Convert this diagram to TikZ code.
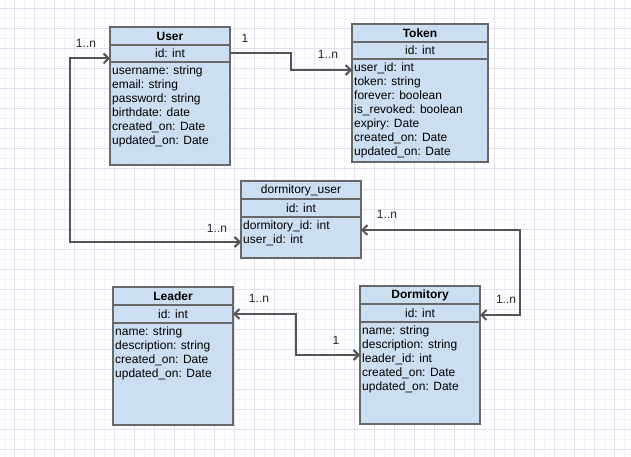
\documentclass[tikz,border=0pt]{standalone}
\usepackage{fontspec}
\setmainfont{Liberation Sans}
\usetikzlibrary{arrows.meta,positioning}

\definecolor{boxfill}{RGB}{204,222,241}
\definecolor{boxline}{RGB}{104,104,104}
\definecolor{edgeline}{RGB}{84,84,84}
\definecolor{gridminor}{RGB}{241,241,250}
\definecolor{gridmajor}{RGB}{224,224,242}

\tikzset{
  entity/.style={draw=boxline,fill=boxfill,line width=2pt,anchor=north west,
    inner sep=0pt,outer sep=0pt},
  erow/.style={entity,minimum height=18pt,font=\fontsize{12}{14}\selectfont},
  ebody/.style={anchor=north west,inner sep=0pt,align=left,
    font=\fontsize{12}{14}\selectfont},
  edge/.style={draw=edgeline,line width=2pt},
  barb/.tip={Straight Barb[length=5pt,width=10pt,line width=2pt]},
  mult/.style={font=\fontsize{12}{14}\selectfont,text=black!85,inner sep=0pt}
}

\begin{document}
\begin{tikzpicture}[x=1pt,y=-1pt]
\useasboundingbox (0,0) rectangle (631,457);
\fill[white] (0,0) rectangle (631,457);
% grid
\foreach \x in {4,14,...,631} \draw[gridminor,line width=1pt] (\x,0) -- (\x,457);
\foreach \y in {-1,9,...,457} \draw[gridminor,line width=1pt] (0,\y) -- (631,\y);
\foreach \x in {14,34,...,631} \draw[gridmajor,line width=1pt] (\x,0) -- (\x,457);
\foreach \y in {9,29,...,457} \draw[gridmajor,line width=1pt] (0,\y) -- (631,\y);

% User
\node[entity,minimum width=120pt,minimum height=138pt] (user) at (110,27) {};
\node[erow,minimum width=120pt] (user-t) at (user.north west) {\bfseries User};
\node[erow,minimum width=120pt,minimum height=17pt] (user-id) at (user-t.south west) {id: int};
\node[ebody] (user-b) at ([xshift=2pt,yshift=-4pt]user-id.south west)
  {username: string\\email: string\\password: string\\birthdate: date\\created\_on: Date\\updated\_on: Date};

% Token
\node[entity,minimum width=136pt,minimum height=138pt] (token) at (352,24) {};
\node[erow,minimum width=136pt] (token-t) at (token.north west) {\bfseries Token};
\node[erow,minimum width=136pt,minimum height=17pt] (token-id) at (token-t.south west) {id: int};
\node[ebody] (token-b) at ([xshift=2pt,yshift=-4pt]token-id.south west)
  {user\_id: int\\token: string\\forever: boolean\\is\_revoked: boolean\\expiry: Date\\created\_on: Date\\updated\_on: Date};

% dormitory_user
\node[entity,minimum width=120pt,minimum height=77pt] (du) at (241,181) {};
\node[erow,minimum width=120pt] (du-t) at (du.north west) {dormitory\_user};
\node[erow,minimum width=120pt] (du-id) at (du-t.south west) {id: int};
\node[ebody] (du-b) at ([xshift=2pt,yshift=-4pt]du-id.south west)
  {dormitory\_id: int\\user\_id: int};

% Leader
\node[entity,minimum width=120pt,minimum height=138pt] (leader) at (113,287) {};
\node[erow,minimum width=120pt] (leader-t) at (leader.north west) {\bfseries Leader};
\node[erow,minimum width=120pt] (leader-id) at (leader-t.south west) {id: int};
\node[ebody] (leader-b) at ([xshift=2pt,yshift=-4pt]leader-id.south west)
  {name: string\\description: string\\created\_on: Date\\updated\_on: Date};

% Dormitory
\node[entity,minimum width=120pt,minimum height=138pt] (dorm) at (360,286) {};
\node[erow,minimum width=120pt] (dorm-t) at (dorm.north west) {\bfseries Dormitory};
\node[erow,minimum width=120pt] (dorm-id) at (dorm-t.south west) {id: int};
\node[ebody] (dorm-b) at ([xshift=2pt,yshift=-4pt]dorm-id.south west)
  {name: string\\description: string\\leader\_id: int\\created\_on: Date\\updated\_on: Date};

% relations
\draw[edge,-barb] (user-id.east) -- ++(61,0) |- ([yshift=-11pt]token-id.south west);
\draw[edge,barb-barb] ([yshift=-5pt]user-id.west) -- ++(-40,0) |- ([yshift=-25pt]du-id.south west);
\draw[edge,barb-barb] ([yshift=-13pt]du-id.south east) -- ++(159,0) |- ([yshift=-2pt]dorm-id.east);
\draw[edge,barb-barb] (leader-id.east) -- ++(63,0) |- ([yshift=-33pt]dorm-id.south west);

% multiplicities
\node[mult] (m-user-r) at (245,38) {1};
\node[mult] (m-token) at (328,54) {1..n};
\node[mult] (m-user-l) at (86,43) {1..n};
\node[mult] (m-du-l) at (217,228) {1..n};
\node[mult] (m-du-r) at (387,214) {1..n};
\node[mult] (m-dorm-r) at (506,299) {1..n};
\node[mult] (m-leader) at (259,298) {1..n};
\node[mult] (m-dorm-l) at (336,340) {1};
\end{tikzpicture}
\end{document}
